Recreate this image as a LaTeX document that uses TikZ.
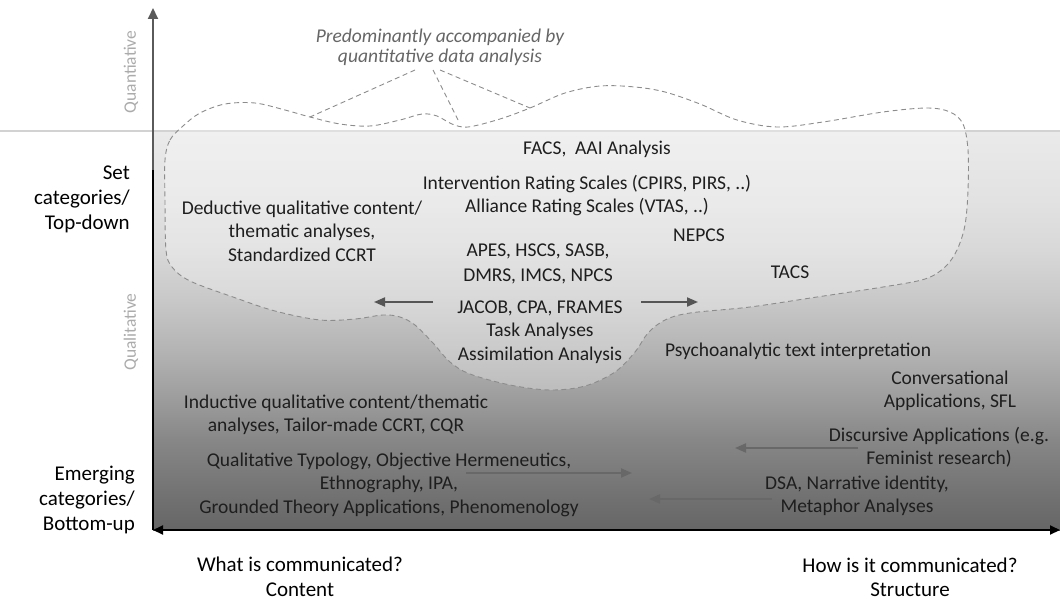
\documentclass[tikz,border=0pt]{standalone}
\usepackage{fontspec}
\setmainfont{Carlito}
\usetikzlibrary{arrows.meta}

\definecolor{sh0}{HTML}{666666}
\definecolor{sh1}{HTML}{707070}
\definecolor{sh2}{HTML}{878787}
\definecolor{sh3}{HTML}{9C9C9C}
\definecolor{sh4}{HTML}{B4B4B4}
\definecolor{sh5}{HTML}{C8C8C8}
\definecolor{sh6}{HTML}{D8D8D8}
\definecolor{sh7}{HTML}{E2E2E2}
\definecolor{sh8}{HTML}{EAEAEA}
\definecolor{axisgray}{HTML}{5A5A5A}
\definecolor{arrowdark}{HTML}{555555}
\definecolor{arrowlight}{HTML}{686868}
\definecolor{dashgray}{HTML}{8C8C8C}
\definecolor{labelgray}{HTML}{ABABAB}
\definecolor{notegray}{HTML}{666666}
\definecolor{bodytext}{HTML}{1E1E1E}
\definecolor{rulegray}{HTML}{D2D2D2}

% background of the qualitative panel, light at the top, dark at the bottom
\pgfdeclareverticalshading{panelshade}{100bp}{%
  color(0bp)=(sh0); color(25bp)=(sh0); color(28.76bp)=(sh1);
  color(36.3bp)=(sh2); color(41.3bp)=(sh3); color(47.6bp)=(sh4);
  color(53.8bp)=(sh5); color(60.1bp)=(sh6); color(66.4bp)=(sh7);
  color(75bp)=(sh8); color(100bp)=(sh8)}

% multi-line nodes are placed by the baseline of their last line
\tikzset{
  body/.style={font=\fontsize{19.5}{23.5}\selectfont, text=bodytext,
    align=center, inner sep=0pt, anchor=base},
  axlabel/.style={font=\fontsize{21}{25}\selectfont, text=black,
    inner sep=0pt},
  sidelabel/.style={font=\fontsize{17.5}{20}\selectfont, text=labelgray,
    rotate=90, inner sep=0pt, anchor=center},
  note/.style={font=\fontsize{19.5}{20}\selectfont\itshape, text=notegray,
    align=center, inner sep=0pt, anchor=base},
  dashline/.style={draw=dashgray, line width=0.9pt, dash pattern=on 5pt off 3.5pt},
  darrow/.style={draw=arrowdark, line width=2pt,
    -{Triangle[length=11pt,width=9pt]}},
  larrow/.style={draw=arrowlight, line width=2pt,
    -{Triangle[length=11pt,width=9pt]}},
}

\begin{document}
\begin{tikzpicture}[x=1pt,y=-1pt]
\useasboundingbox (0,0) rectangle (1060,602);

% shaded panel and the boundary between quantitative and qualitative
\shade[shading=panelshade] (153,131) rectangle (1060,530);
\draw[rulegray, line width=1.4pt] (0,131) -- (1060,131);

% region of methods predominantly accompanied by quantitative analysis
\draw[dashline, fill=white, fill opacity=0.3]
  plot[smooth cycle, tension=0.55] coordinates {
  (165,160) (170,140) (183,126) (200,113) (225,104) (255,103) (285,110)
  (310,117) (340,124) (370,126) (400,120) (422,114) (437,116) (452,124)
  (468,127) (500,119) (530,108) (565,93) (600,86) (635,87) (665,92)
  (700,104) (737,120) (777,127) (823,122) (883,112) (927,108) (950,112)
  (963,124) (968,150) (968,190) (965,225) (957,250) (945,267) (925,279)
  (883,287) (817,297) (750,307) (690,313) (665,320) (648,333) (635,352)
  (615,372) (585,386) (550,390) (510,385) (470,374) (450,362) (433,343)
  (415,325) (400,317) (383,315) (355,319) (320,320) (275,311) (233,297)
  (190,281) (172,267) (166,250) (165,200)};

% axes
\coordinate (origin) at (153,530);
\coordinate (ytop) at (153,8);
\coordinate (ysplit) at (153,170);
\coordinate (xend) at (1060,530);
\draw[axisgray, line width=2pt, -{Triangle[length=11pt,width=10pt]}] (origin) -- (ytop);
\draw[black, line width=2pt] (origin) -- (ysplit);
\draw[black, line width=2pt, {Triangle[length=10pt,width=9pt]}-{Triangle[length=10pt,width=9pt]}] (origin) -- (xend);

% axis labels
\node[sidelabel] (quantlab) at (131,72) {Quantiative};
\node[sidelabel] (quallab) at (131,332) {Qualitative};
\node[axlabel, align=right, anchor=base east] (setcat) at (130,229)
  {Set\\categories/\\Top-down};
\node[axlabel, align=right, anchor=base east] (emcat) at (135,530)
  {Emerging\\categories/\\Bottom-up};
\node[axlabel, align=center, anchor=base, font=\fontsize{21}{25}\selectfont] (what) at (300,596)
  {What is communicated?\\Content};
\node[axlabel, align=center, anchor=base, font=\fontsize{21}{24.5}\selectfont] (how) at (910,596.5)
  {How is it communicated?\\Structure};

% note on the dashed region
\node[note] (quant) at (440,63)
  {Predominantly accompanied by\\quantitative data analysis};
\coordinate (qa) at (415,70);
\coordinate (qb) at (433,70);
\coordinate (qc) at (440,70);
\coordinate (ba) at (310,117);
\coordinate (bb) at (458,120);
\coordinate (bc) at (530,108);
\draw[dashline] (qa) -- (ba);
\draw[dashline] (qb) -- (bb);
\draw[dashline] (qc) -- (bc);

% methods
\node[body] (facs) at (597,154) {FACS,\ \ AAI Analysis};
\node[body] (scales) at (587,212.5)
  {Intervention Rating Scales (CPIRS, PIRS, ..)\\Alliance Rating Scales (VTAS, ..)};
\node[body] (deduct) at (302,261)
  {Deductive qualitative content/\\thematic analyses,\\Standardized CCRT};
\node[body] (nepcs) at (699,241) {NEPCS};
\node[body, font=\fontsize{19.5}{25}\selectfont] (apes) at (538,281)
  {APES, HSCS, SASB,\\DMRS, IMCS, NPCS};
\node[body] (jacob) at (540,360)
  {JACOB, CPA, FRAMES\\Task Analyses\\Assimilation Analysis};
\node[body] (tacs) at (790,278) {TACS};
\node[body] (psycho) at (798,356) {Psychoanalytic text interpretation};
\node[body] (conv) at (950,407.5) {Conversational\\Applications, SFL};
\node[body] (induct) at (336,431.5)
  {Inductive qualitative content/thematic\\analyses, Tailor-made CCRT, CQR};
\node[body] (discurs) at (939,464.5)
  {Discursive Applications (e.g.\\Feminist research)};
\node[body] (typol) at (389,513)
  {Qualitative Typology, Objective Hermeneutics,\\Ethnography, IPA,\\Grounded Theory Applications, Phenomenology};
\node[body] (dsa) at (857,512.5) {DSA, Narrative identity,\\Metaphor Analyses};

% shifts between content and structure
\coordinate (l1s) at (433,302); \coordinate (l1e) at (374,302);
\coordinate (r1s) at (641,302); \coordinate (r1e) at (698,302);
\coordinate (l2s) at (858,448); \coordinate (l2e) at (735,448);
\coordinate (r2s) at (466,473); \coordinate (r2e) at (632,473);
\coordinate (l3s) at (772,499); \coordinate (l3e) at (649,499);
\draw[darrow] (l1s) -- (l1e);
\draw[darrow] (r1s) -- (r1e);
\draw[larrow] (l2s) -- (l2e);
\draw[larrow] (r2s) -- (r2e);
\draw[larrow] (l3s) -- (l3e);
\end{tikzpicture}
\end{document}
